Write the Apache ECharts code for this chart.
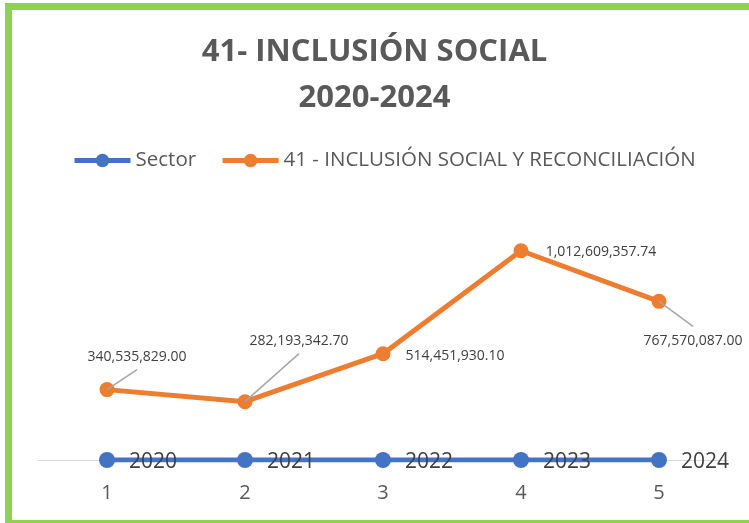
<!DOCTYPE html>
<html>
<head>
<meta charset="utf-8">
<script src="https://cdn.jsdelivr.net/npm/echarts@6/dist/echarts.min.js"></script>
<style>
	html, body { margin: 0; padding: 0; background: #fff; overflow: hidden; }
	#frame {
		position: absolute; left: 5px; top: 3px; width: 760px; height: 510px;
		border: 7px solid #92D050; box-sizing: content-box;
	}
	#chart0 { position: absolute; left: 0; top: 0; width: 749px; height: 523px; }
</style>
</head>
<body>
<div id="frame"></div>
<div id="chart0"></div>
<script>
'use strict';

// datos del grafico
var categories = [ '1', '2', '3', '4', '5' ];
var sector_name = 'Sector';
var sector_values = [ 2020, 2021, 2022, 2023, 2024 ];
var inclusion_name = '41 - INCLUSIÓN SOCIAL Y RECONCILIACIÓN';
var inclusion_values = [ 340535829.00, 282193342.70, 514451930.10, 1012609357.74, 767570087.00 ];

// desplazamiento de etiquetas (estilo)
var label_offsets = [ [ 30, -33 ], [ 54, -61 ], [ 72, 2 ], [ 80, 1 ], [ 34, 40 ] ];
var label_lines = [ true, true, false, false, true ];

var font = '"Open Sans", "Liberation Sans", sans-serif';

function fmt(v) {
	return v.toLocaleString('en-US', {
		minimumFractionDigits : 2,
		maximumFractionDigits : 2
	});
}

var chart0 = echarts.init(document.getElementById('chart0'));

// lineas guia: del punto hacia la etiqueta
var leader_data = [];
for (var i = 0; i < inclusion_values.length; i++) {
	if (label_lines[i]) {
		leader_data.push([ i, inclusion_values[i] ]);
	}
}

chart0.setOption({
	animation : false,
	textStyle : {
		fontFamily : font
	},
	title : {
		text : '41- INCLUSIÓN SOCIAL\n2020-2024',
		left : 'center',
		top : 24,
		textStyle : {
			fontFamily : font,
			fontSize : 31,
			fontWeight : 'bold',
			color : '#595959',
			lineHeight : 46
		}
	},
	legend : {
		top : 145,
		left : 67,
		itemWidth : 56,
		itemHeight : 17,
		itemGap : 24,
		lineStyle : {
			width : 5
		},
		textStyle : {
			fontFamily : font,
			fontSize : 20.5,
			color : '#595959'
		},
		data : [ sector_name, inclusion_name ]
	},
	grid : {
		left : 38,
		right : 21,
		top : 212,
		bottom : 63
	},
	xAxis : {
		type : 'category',
		boundaryGap : true,
		data : categories,
		axisLine : {
			lineStyle : {
				color : '#D9D9D9',
				width : 1
			}
		},
		axisTick : {
			show : false
		},
		axisLabel : {
			margin : 23,
			fontSize : 20,
			color : '#595959',
			fontFamily : font
		}
	},
	yAxis : {
		type : 'value',
		min : 0,
		max : 1200000000,
		show : false,
		splitLine : {
			show : false
		}
	},
	series : [ {
		name : sector_name,
		type : 'line',
		data : sector_values,
		symbol : 'circle',
		symbolSize : 16,
		z : 2,
		itemStyle : {
			color : '#4472C4'
		},
		lineStyle : {
			color : '#4472C4',
			width : 5
		},
		label : {
			show : true,
			position : 'right',
			distance : 14,
			offset : [ 0, 2 ],
			fontSize : 21,
			color : '#404040',
			fontFamily : font
		}
	}, {
		name : inclusion_name,
		type : 'line',
		data : inclusion_values,
		symbol : 'circle',
		symbolSize : 15,
		z : 3,
		itemStyle : {
			color : '#ED7D31'
		},
		lineStyle : {
			color : '#ED7D31',
			width : 5
		},
		label : {
			show : true,
			position : 'inside',
			fontSize : 14,
			color : '#404040',
			fontFamily : font,
			formatter : function(p) {
				return fmt(p.value);
			}
		},
		labelLayout : function(p) {
			var o = label_offsets[p.dataIndex];
			return {
				dx : o[0],
				dy : o[1]
			};
		}
	}, {
		name : 'guias',
		type : 'custom',
		z : 4,
		silent : true,
		data : leader_data,
		renderItem : function(params, api) {
			var idx = api.value(0);
			var pt = api.coord([ idx, api.value(1) ]);
			var o = label_offsets[idx];
			var ey = o[1] < 0 ? o[1] + 13 : o[1] - 15;
			return {
				type : 'line',
				shape : {
					x1 : pt[0],
					y1 : pt[1],
					x2 : pt[0] + o[0],
					y2 : pt[1] + ey
				},
				style : {
					stroke : '#A6A6A6',
					lineWidth : 1.5
				}
			};
		}
	} ]
});
</script>
</body>
</html>
